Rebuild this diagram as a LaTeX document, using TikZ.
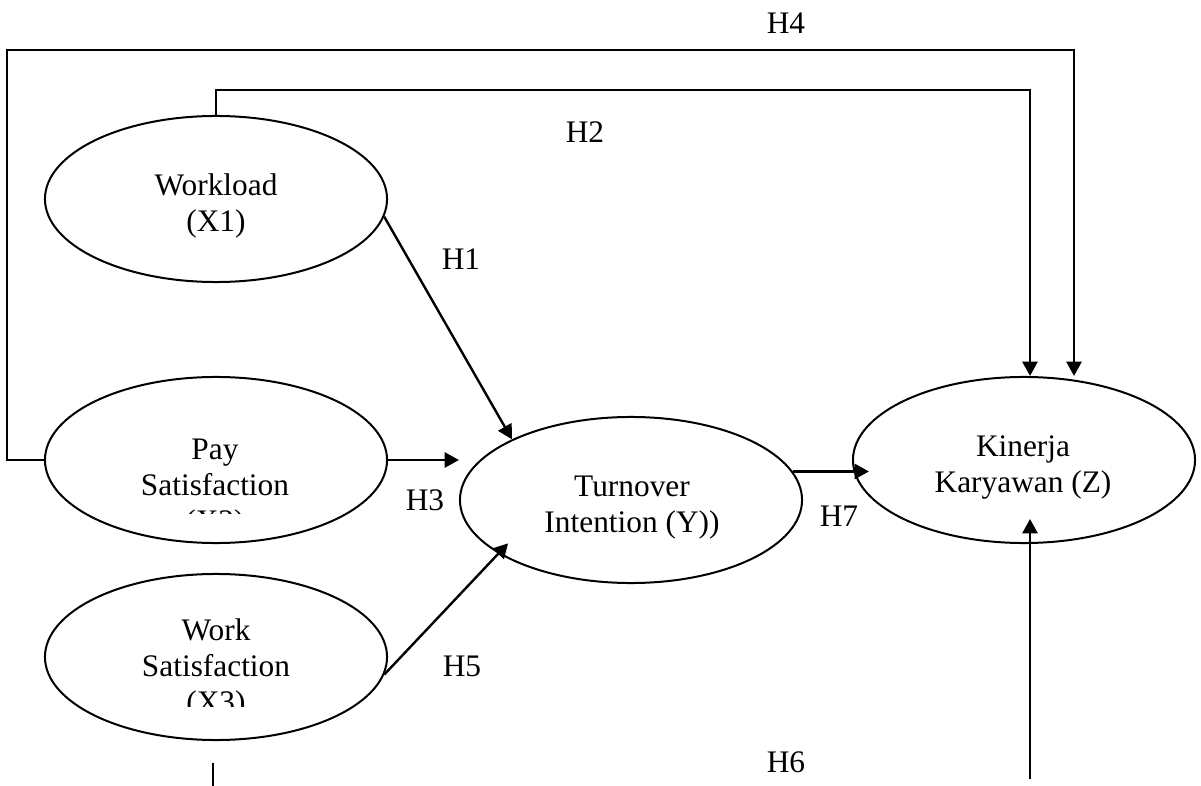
\documentclass[tikz,border=0pt]{standalone}
\usepackage{fontspec}
\setmainfont{Liberation Serif}
\usetikzlibrary{arrows.meta, shapes.geometric}

\begin{document}
\begin{tikzpicture}[
    x=0.025cm, y=-0.025cm,
    latent/.style={ellipse, draw=black, line width=0.05cm,
        minimum width=8.55cm, minimum height=4.15cm, inner sep=0pt},
    words/.style={align=center, inner sep=0pt,
        font=\fontsize{22.3}{25.6}\selectfont},
    tag/.style={inner sep=0pt, font=\fontsize{22.3}{25.6}\selectfont},
    link/.style={line width=0.06cm, -{Triangle[length=0.36cm, width=0.38cm]}},
    stub/.style={line width=0.06cm, -}
]
    \useasboundingbox (0,0) rectangle (1201,786);

    % constructs
    \node[latent] (x1) at (216,199) {};
    \node[latent] (x2) at (216,460) {};
    \node[latent] (x3) at (216,657) {};
    \node[latent] (y) at (631,500) {};
    \node[latent] (z) at (1024,460) {};

    \node[words] (x1t) at (216,206) {Workload\\(X1)};
    \begin{scope}
        \clip (40,380) rectangle (392,513);
        \node[words] (x2t) at (215,489) {Pay\\Satisfaction\\(X2)};
    \end{scope}
    \begin{scope}
        \clip (40,580) rectangle (392,706);
        \node[words] (x3t) at (216,669) {Work\\Satisfaction\\(X3)};
    \end{scope}
    \node[words] (yt) at (632,508) {Turnover\\Intention (Y))};
    \node[words] (zt) at (1023,468) {Kinerja\\Karyawan (Z)};

    % bends and free ends
    \coordinate (h4a) at (7,50);
    \coordinate (h4b) at (1074,50);
    \coordinate (h2a) at (1030,90);
    \coordinate (h6a) at (1030,779);
    \coordinate (s1) at (213,763);
    \coordinate (s2) at (213,786);

    % paths
    \draw[link] (x1.-6) -- (y.153);
    \draw[link] (x1.north) |- (h2a) -- (h2a |- z.north);
    \draw[link] (x2.east) -- (x2.east -| y.west);
    \draw[link] (x2.west) -| (h4a) -- (h4b) -- (h4b |- z.north);
    \draw[link, shorten >=-0.35cm] (x3.-6) -- (y.202);
    \draw[link, shorten >=-0.625cm] (h6a) -- (h6a |- z.south);
    \draw[link, shorten >=-0.425cm] (y.10) -- (y.10 -| z.west);
    \draw[stub] (s1) -- (s2);

    % hypothesis labels
    \node[tag] (h1) at (461,259) {H1};
    \node[tag] (h2) at (585,132) {H2};
    \node[tag] (h3) at (425,500) {H3};
    \node[tag] (h4) at (786,23) {H4};
    \node[tag] (h5) at (462,666) {H5};
    \node[tag] (h6) at (786,762) {H6};
    \node[tag] (h7) at (839,516) {H7};
\end{tikzpicture}
\end{document}
